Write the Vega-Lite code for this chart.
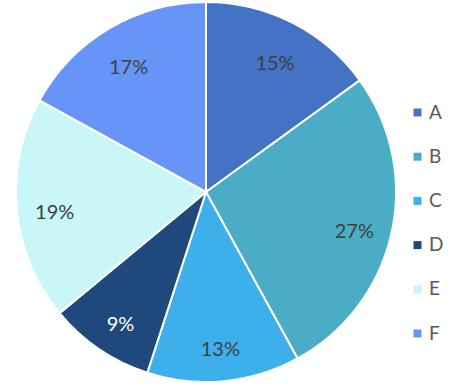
{
  "$schema": "https://vega.github.io/schema/vega-lite/v6.json",
  "width": 412,
  "height": 384,
  "autosize": "none",
  "padding": {"left": 0, "top": 0, "right": 43, "bottom": 3},
  "background": "white",
  "data": {"values": [
    {"cat": "A", "value": 15, "label": "15%"},
    {"cat": "B", "value": 27, "label": "27%"},
    {"cat": "C", "value": 13, "label": "13%"},
    {"cat": "D", "value": 9, "label": "9%"},
    {"cat": "E", "value": 19, "label": "19%"},
    {"cat": "F", "value": 17, "label": "17%"}
  ]},
  "encoding": {
    "theta": {"field": "value", "type": "quantitative", "stack": true},
    "order": {"field": "cat", "type": "nominal", "sort": "ascending"}
  },
  "layer": [
    {
      "mark": {"type": "arc", "outerRadius": 190, "stroke": "white", "strokeWidth": 2},
      "encoding": {
        "color": {
          "field": "cat", "type": "nominal",
          "scale": {"domain": ["A","B","C","D","E","F"], "range": ["#4472C4","#4BACC6","#3DB0EC","#1F497D","#C9F7F7","#6795F7"]},
          "legend": {
            "title": null, "orient": "none", "legendX": 408, "legendY": 103,
            "symbolType": "square", "symbolSize": 64, "symbolStrokeWidth": 0,
            "labelFontSize": 19, "labelFont": "Lato", "labelColor": "#595959",
            "rowPadding": 24.2, "labelOffset": 2, "padding": 0
          }
        }
      }
    },
    {
      "mark": {"type": "text", "radius": 152, "fontSize": 20, "font": "Lato", "dy": 7},
      "encoding": {
        "text": {"field": "label"},
        "color": {"condition": {"test": "datum.cat === 'D'", "value": "white"}, "value": "#404040"}
      }
    }
  ]
}
